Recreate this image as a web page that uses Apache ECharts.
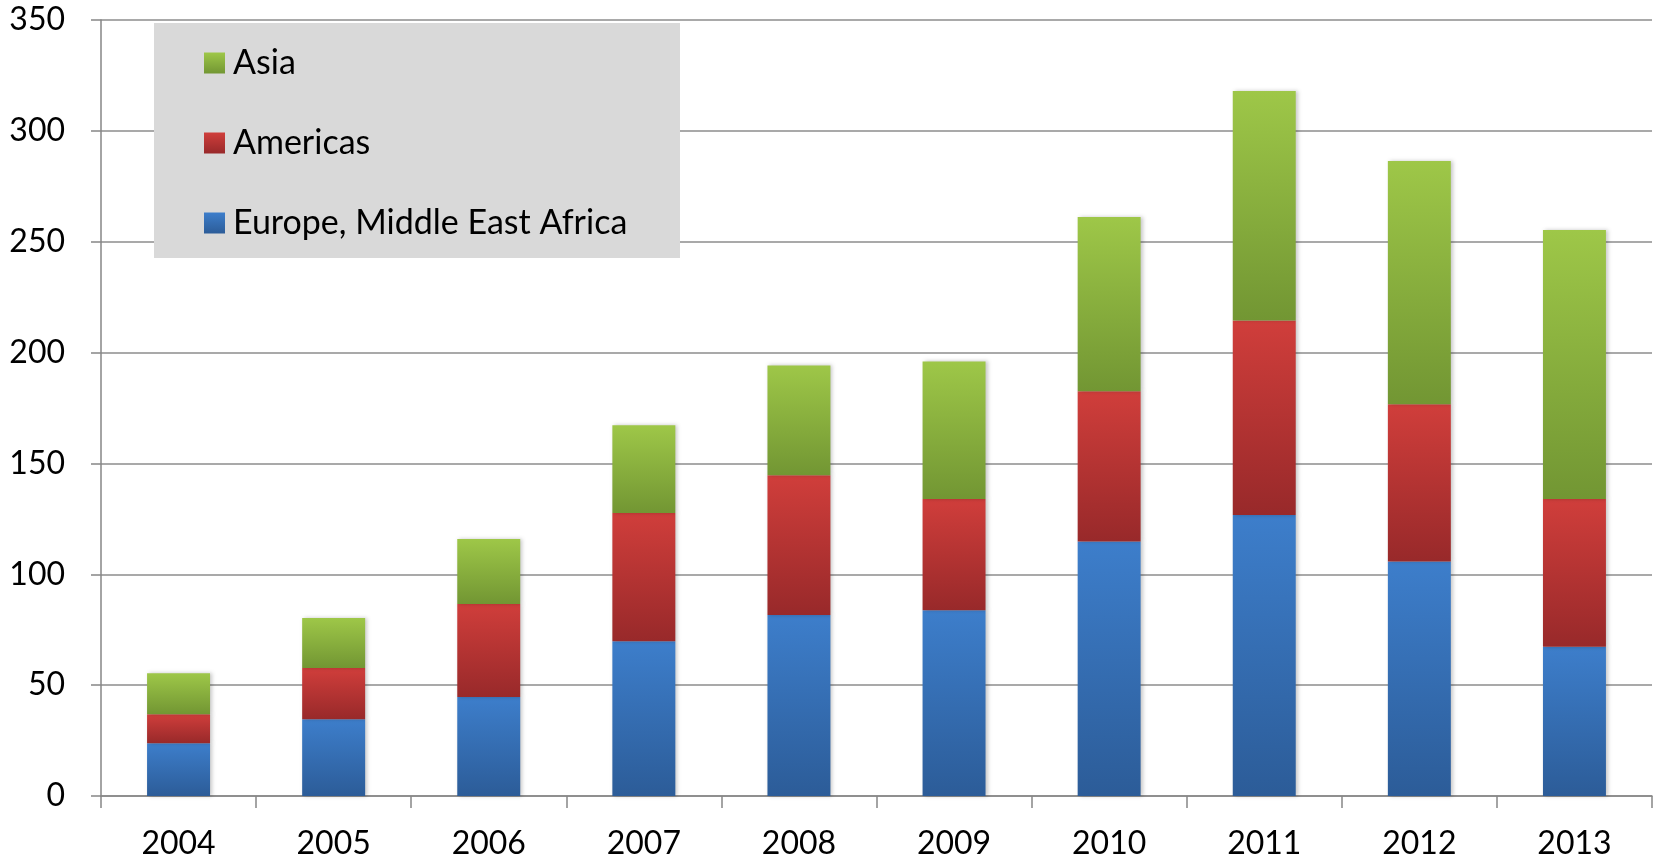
<!DOCTYPE html>
<html>
<head>
<meta charset="utf-8">
<script src="https://cdn.jsdelivr.net/npm/echarts@6/dist/echarts.min.js"></script>
<style>
html,body{margin:0;padding:0;background:#fff;}
#chart{width:1653px;height:860px;}
</style>
</head>
<body>
<div id="chart"></div>
<script>
const categories = ['2004','2005','2006','2007','2008','2009','2010','2011','2012','2013'];
const emea = [23.8, 34.6, 44.6, 69.8, 81.6, 83.8, 114.8, 126.7, 105.8, 67.3];
const americas = [13.1, 23.1, 42.0, 57.8, 63.1, 50.2, 67.7, 87.8, 70.9, 66.6];
const asia = [18.5, 22.6, 29.3, 39.6, 49.5, 62.0, 78.6, 103.5, 109.7, 121.4];
const seriesNames = ['Europe, Middle East Africa', 'Americas', 'Asia'];
const legendOrder = ['Asia', 'Americas', 'Europe, Middle East Africa'];

const FONT = 'Lato';
function grad(top, bottom) {
  return new echarts.graphic.LinearGradient(0, 0, 0, 1, [
    {offset: 0, color: top}, {offset: 1, color: bottom}
  ]);
}
const shadow = {shadowColor: 'rgba(0,0,0,0.22)', shadowBlur: 4, shadowOffsetX: 2, shadowOffsetY: 0};

const chart = echarts.init(document.getElementById('chart'), null, {renderer: 'canvas'});
chart.setOption({
  animation: false,
  backgroundColor: '#ffffff',
  graphic: [{
    type: 'rect', z: 1,
    shape: {x: 154, y: 23, width: 526, height: 235},
    style: {fill: '#d9d9d9'}
  }],
  legend: {
    data: legendOrder,
    orient: 'vertical',
    left: 204, top: 46,
    padding: 0,
    icon: 'rect',
    itemWidth: 21, itemHeight: 21,
    itemGap: 46,
    z: 5,
    textStyle: {fontFamily: FONT, fontSize: 34, color: '#000', lineHeight: 32, padding: [0,0,0,3]}
  },
  grid: {left: 101, right: 1, top: 20, bottom: 64, containLabel: false},
  xAxis: {
    type: 'category',
    data: categories,
    axisLine: {show: true, lineStyle: {color: '#868686', width: 1.5}},
    axisTick: {show: true, length: 12, lineStyle: {color: '#868686', width: 1.5}},
    axisLabel: {fontFamily: FONT, fontSize: 32, color: '#000', margin: 32}
  },
  yAxis: {
    type: 'value',
    min: 0, max: 350, interval: 50,
    axisLine: {show: true, lineStyle: {color: '#868686', width: 1.5}},
    axisTick: {show: true, length: 10, lineStyle: {color: '#868686', width: 1.5}},
    splitLine: {show: true, lineStyle: {color: '#8c8c8c', width: 1.5}},
    axisLabel: {fontFamily: FONT, fontSize: 32, color: '#000', margin: 36}
  },
  series: [
    {name: seriesNames[0], type: 'bar', stack: 'total', data: emea, barWidth: '40.6%',
     itemStyle: Object.assign({color: grad('#3d7ecb', '#2c5c98')}, shadow)},
    {name: seriesNames[1], type: 'bar', stack: 'total', data: americas, barWidth: '40.6%',
     itemStyle: Object.assign({color: grad('#d03e3b', '#98292a')}, shadow)},
    {name: seriesNames[2], type: 'bar', stack: 'total', data: asia, barWidth: '40.6%',
     itemStyle: Object.assign({color: grad('#9ec748', '#729633')}, shadow)}
  ]
});
</script>
</body>
</html>
